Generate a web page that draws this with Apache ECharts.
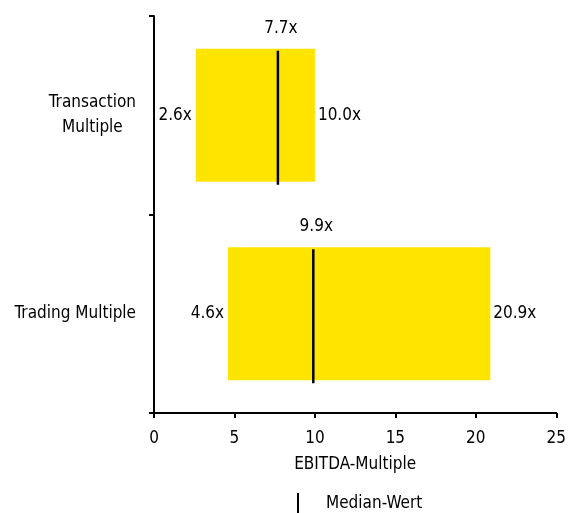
<!DOCTYPE html>
<html><head><meta charset="utf-8">
<script src="https://cdn.jsdelivr.net/npm/echarts@6/dist/echarts.min.js"></script>
<style>html,body{margin:0;padding:0;background:#fff}#c{width:569px;height:513px}</style>
</head><body><div id="c"></div>
<script>
const categories = ['Transaction\nMultiple', 'Trading Multiple'];
const lows = [2.6, 4.6];
const highs = [10.0, 20.9];
const medians = [7.7, 9.9];
const xTicks = [0, 5, 10, 15, 20, 25];

const FONT = "'DejaVu Sans Condensed','Liberation Sans Narrow','Arial Narrow',sans-serif";
const FS = 17;
const chart = echarts.init(document.getElementById('c'));
const BW = 0.67;
chart.setOption({
  animation: false,
  grid: {left: 154, right: 10, top: 16, bottom: 100},
  legend: {
    top: 488, left: 292,
    data: [{name: 'Median-Wert', icon: 'rect', itemStyle: {color: '#000'}}],
    itemWidth: 2, itemHeight: 22,
    textStyle: {fontFamily: FONT, fontSize: FS, color: '#000', padding: [0, 0, 0, 22]}
  },
  xAxis: {
    type: 'value', min: xTicks[0], max: xTicks[xTicks.length - 1], interval: 5,
    name: 'EBITDA-Multiple', nameLocation: 'middle', nameGap: 43,
    nameTextStyle: {fontFamily: FONT, fontSize: FS, color: '#000'},
    axisLine: {show: true, lineStyle: {color: '#000', width: 2}},
    axisTick: {show: true, length: 5, lineStyle: {color: '#000', width: 2}},
    axisLabel: {fontFamily: FONT, fontSize: FS, color: '#000', margin: 17},
    splitLine: {show: false}
  },
  yAxis: {
    type: 'category', data: categories, inverse: true,
    axisLine: {show: true, lineStyle: {color: '#000', width: 2}},
    axisTick: {show: true, length: 5, lineStyle: {color: '#000', width: 2}},
    axisLabel: {
      fontFamily: FONT, fontSize: FS, color: '#000', margin: 18, align: 'right',
      formatter: v => v.split('\n').map(s => '{a|' + s + '}').join('\n'),
      rich: {a: {fontFamily: FONT, fontSize: FS, color: '#000', align: 'center', lineHeight: 25}}
    }
  },
  series: [
    {
      type: 'bar', stack: 'r', barWidth: (BW * 100) + '%', data: lows, z: 2,
      itemStyle: {color: 'transparent'},
      label: {show: true, position: 'insideRight', distance: 4, formatter: p => p.value.toFixed(1) + 'x',
        fontFamily: FONT, fontSize: FS, color: '#000'}
    },
    {
      type: 'bar', stack: 'r', barWidth: (BW * 100) + '%', z: 2,
      data: highs.map((h, i) => +(h - lows[i]).toFixed(2)),
      itemStyle: {color: '#FFE400'},
      label: {show: true, position: 'right', distance: 3,
        formatter: p => highs[p.dataIndex].toFixed(1) + 'x',
        fontFamily: FONT, fontSize: FS, color: '#000'}
    },
    {
      type: 'custom', name: 'Median-Wert', z: 10,
      data: medians.map((m, i) => [m, i]),
      encode: {x: 0, y: 1},
      itemStyle: {color: '#000'},
      renderItem: function (params, api) {
        const p = api.coord([api.value(0), api.value(1)]);
        const h = api.size([0, 1])[1] * BW;
        return {
          type: 'group',
          children: [
            {type: 'line', z2: 10, shape: {x1: p[0], y1: p[1] - h / 2 + 2, x2: p[0], y2: p[1] + h / 2 + 3},
              style: {stroke: '#000', lineWidth: 2.5}},
            {type: 'text', x: p[0] + 3, y: p[1] - h / 2 - 12,
              style: {text: api.value(0).toFixed(1) + 'x', align: 'center', verticalAlign: 'bottom',
                font: FS + 'px ' + FONT, fill: '#000'}}
          ]
        };
      }
    }
  ]
});
</script></body></html>
